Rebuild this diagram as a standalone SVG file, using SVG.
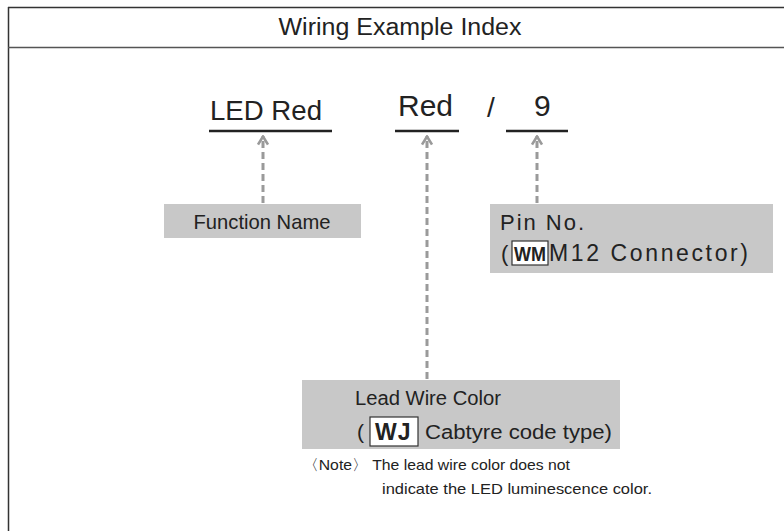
<svg xmlns="http://www.w3.org/2000/svg" width="784" height="531" viewBox="0 0 784 531">
<defs>
<style>
.t{font-family:"Liberation Sans",Arial,sans-serif;fill:#222}
.box{fill:#c8c8c8}
.ul{stroke:#222;stroke-width:2.5}
.dash{stroke:#9a9a9a;stroke-width:3;stroke-dasharray:7,4;fill:none}
.code{fill:#fff;stroke:#333;stroke-width:1.2}
</style>
<marker id="ah" viewBox="0 0 12 12" refX="10.5" refY="6" markerWidth="12" markerHeight="12" markerUnits="userSpaceOnUse" orient="auto">
<path d="M2,1 L10,6 L2,11" fill="none" stroke="#9a9a9a" stroke-width="2.6"/>
</marker>
</defs>
<rect width="784" height="531" fill="#fff"/>
<g id="frame">
<line x1="8" y1="7.5" x2="784" y2="7.5" stroke="#333" stroke-width="1.5"/>
<line x1="8.5" y1="7" x2="8.5" y2="531" stroke="#333" stroke-width="1.5"/>
<line x1="8" y1="47.5" x2="784" y2="47.5" stroke="#555" stroke-width="1.5"/>
<text class="t" x="400" y="35" font-size="23" text-anchor="middle" textLength="243" lengthAdjust="spacingAndGlyphs">Wiring Example Index</text>
</g>
<g id="index">
<text class="t" x="210" y="120" font-size="28" textLength="112" lengthAdjust="spacingAndGlyphs">LED Red</text>
<line class="ul" x1="209" y1="131" x2="332" y2="131"/>
<text class="t" x="398" y="116" font-size="30" textLength="55" lengthAdjust="spacingAndGlyphs">Red</text>
<line class="ul" x1="395" y1="131" x2="459" y2="131"/>
<text class="t" x="487" y="117" font-size="28">/</text>
<text class="t" x="534" y="116" font-size="30">9</text>
<line class="ul" x1="506" y1="131" x2="568" y2="131"/>
</g>
<g id="connectors">
<line class="dash" x1="263" y1="203" x2="263" y2="136" marker-end="url(#ah)"/>
<line class="dash" x1="427" y1="379" x2="427" y2="136" marker-end="url(#ah)"/>
<line class="dash" x1="537" y1="203" x2="537" y2="136" marker-end="url(#ah)"/>
</g>
<g id="function-name">
<rect class="box" x="164" y="204" width="197" height="34"/>
<text class="t" x="262" y="229" font-size="21" text-anchor="middle" textLength="137" lengthAdjust="spacingAndGlyphs">Function Name</text>
</g>
<g id="pin-no">
<rect class="box" x="490" y="204" width="283" height="69"/>
<text class="t" x="500" y="230" font-size="22" textLength="84" lengthAdjust="spacing">Pin No.</text>
<text class="t" x="501" y="261" font-size="22">(</text>
<rect class="code" x="512" y="241" width="36" height="24"/>
<text class="t" x="514" y="261" font-size="21" font-weight="bold" textLength="32" lengthAdjust="spacingAndGlyphs">WM</text>
<text class="t" x="549" y="261" font-size="23" textLength="199" lengthAdjust="spacing">M12 Connector)</text>
</g>
<g id="lead-wire-color">
<rect class="box" x="302" y="380" width="318" height="69"/>
<text class="t" x="355" y="405" font-size="20" textLength="146" lengthAdjust="spacingAndGlyphs">Lead Wire Color</text>
<text class="t" x="357" y="439" font-size="21">(</text>
<rect class="code" x="370" y="417" width="48" height="29"/>
<text class="t" x="375" y="440" font-size="23" font-weight="bold" letter-spacing="1">WJ</text>
<text class="t" x="425" y="439" font-size="20" textLength="187" lengthAdjust="spacingAndGlyphs">Cabtyre code type)</text>
</g>
<g id="note">
<text class="t" x="303" y="470" font-size="15" textLength="267" lengthAdjust="spacingAndGlyphs">〈Note〉 The lead wire color does not</text>
<text class="t" x="382" y="494" font-size="15" textLength="270" lengthAdjust="spacingAndGlyphs">indicate the LED luminescence color.</text>
</g>
</svg>
